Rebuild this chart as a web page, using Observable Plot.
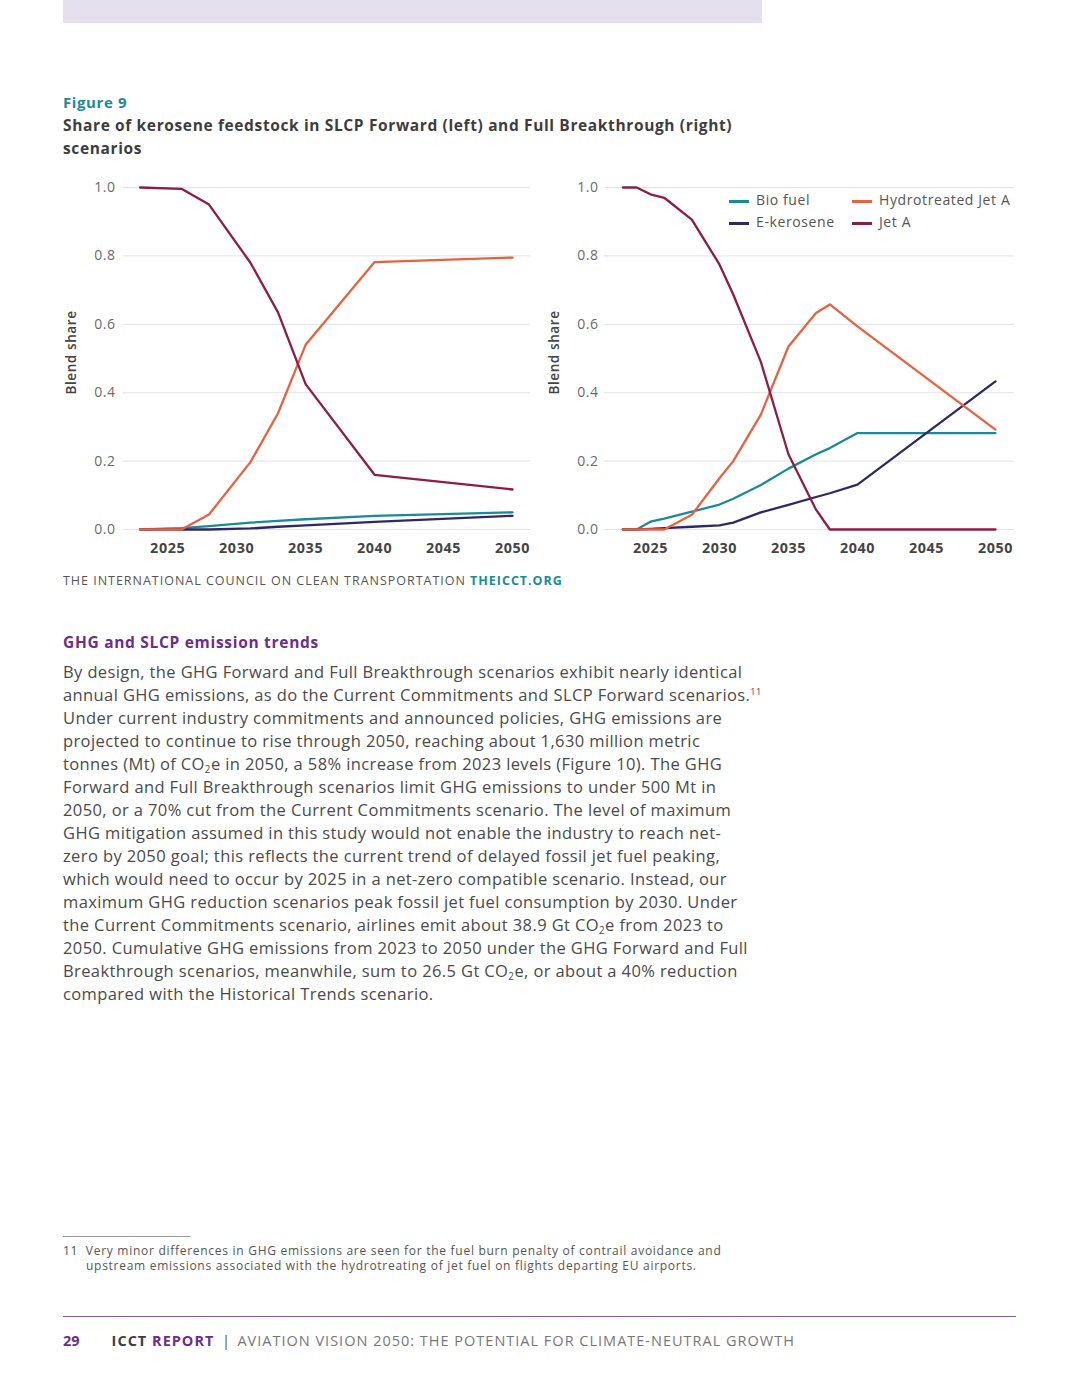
<!DOCTYPE html>
<html>
<head>
<meta charset="utf-8">
<script src="https://cdn.jsdelivr.net/npm/d3@7"></script>
<script src="https://cdn.jsdelivr.net/npm/@observablehq/plot@0.6"></script>
<style>
  html, body { margin: 0; padding: 0; background: #fff; }
  body { width: 1080px; height: 1398px; position: relative; overflow: hidden; font-family: "Open Sans", sans-serif; color: #4a4a4a; }
  .abs { position: absolute; white-space: nowrap; }
  .para div { position: absolute; left: 0; white-space: nowrap; }
  sub { font-size: 0.6em; vertical-align: -0.35em; line-height: 0; }
  sup { font-size: 0.55em; vertical-align: 0.7em; line-height: 0; }
</style>
</head>
<body>
<div class="abs" style="left:63px;top:0;width:699px;height:23px;background:#e4e0ee;"></div>

<div class="abs" style="left:63px;top:92px;font-size:15px;font-weight:700;color:#1b8a99;letter-spacing:0.6px;">Figure 9</div>
<div class="abs" style="left:63px;top:114px;font-size:15.5px;font-weight:700;color:#3d3d3d;line-height:23px;letter-spacing:0.63px;">Share of kerosene feedstock in SLCP Forward (left) and Full Breakthrough (right)<br>scenarios</div>

<div id="left" class="abs" style="left:60px;top:170px;"></div>
<div id="right" class="abs" style="left:543px;top:170px;"></div>
<div id="legend" class="abs" style="left:729px;top:190px;font-size:14px;color:#555;letter-spacing:0.6px;"></div>

<div class="abs" style="left:63px;top:572px;font-size:12.5px;color:#555;letter-spacing:0.98px;">THE INTERNATIONAL COUNCIL ON CLEAN TRANSPORTATION <span style="color:#1b8a99;font-weight:700;">THEICCT.ORG</span></div>

<div class="abs" style="left:63px;top:631px;font-size:15.5px;font-weight:700;color:#6b2d8f;letter-spacing:0.7px;">GHG and SLCP emission trends</div>

<div id="para" class="abs para" style="left:63px;top:660px;font-size:16.5px;color:#4a4a4a;letter-spacing:0.39px;"></div>

<div class="abs" style="left:63px;top:1236px;width:127px;height:1px;background:#999;"></div>
<div class="abs" style="left:63px;top:1243px;font-size:12px;color:#555;line-height:15px;letter-spacing:0.72px;">11&nbsp;&nbsp;Very minor differences in GHG emissions are seen for the fuel burn penalty of contrail avoidance and<br><span style="padding-left:23px;">upstream emissions associated with the hydrotreating of jet fuel on flights departing EU airports.</span></div>

<div class="abs" style="left:63px;top:1316px;width:953px;height:1px;background:#8a5aa3;"></div>
<div class="abs" style="left:63px;top:1331px;font-size:14.5px;color:#777;">
  <span style="color:#6b2d8f;font-weight:700;">29</span><span style="display:inline-block;width:32px;"></span><span style="letter-spacing:1px;"><span style="color:#3d3d3d;font-weight:700;">ICCT</span> <span style="color:#6b2d8f;font-weight:700;">REPORT</span></span>&nbsp; <span style="color:#555;">|</span>&nbsp; <span style="letter-spacing:1px;">AVIATION VISION 2050: THE POTENTIAL FOR CLIMATE-NEUTRAL GROWTH</span>
</div>

<script>
// ---- Data ----
const series = ["Bio fuel", "E-kerosene", "Hydrotreated Jet A", "Jet A"];
const colors = ["#1a8a98", "#2e2868", "#e8623f", "#8e1c47"];

// SLCP Forward (left)
const leftYears = [2023, 2026, 2028, 2031, 2033, 2035, 2040, 2050];
const leftBio   = [0, 0.004, 0.01, 0.02, 0.025, 0.03, 0.04, 0.05];
const leftEker  = [0, 0, 0, 0.003, 0.008, 0.012, 0.022, 0.04];
const leftHydro = [0, 0, 0.044, 0.197, 0.34, 0.54, 0.782, 0.795];
const leftJetA  = [1, 0.996, 0.95, 0.78, 0.635, 0.425, 0.16, 0.117];

// Full Breakthrough (right)
const rightYears = [2023, 2024, 2025, 2026, 2028, 2030, 2031, 2033, 2035, 2037, 2038, 2040, 2050];
const rightBio   = [0, 0, 0.023, 0.032, 0.052, 0.073, 0.09, 0.13, 0.178, 0.22, 0.238, 0.282, 0.282];
const rightEker  = [0, 0, 0.002, 0.004, 0.008, 0.012, 0.02, 0.05, 0.072, 0.095, 0.106, 0.131, 0.433];
const rightHydro = [0, 0, 0, 0, 0.043, 0.15, 0.2, 0.336, 0.535, 0.633, 0.658, 0.594, 0.292];
const rightJetA  = [1, 1, 0.98, 0.97, 0.906, 0.775, 0.687, 0.49, 0.22, 0.058, 0, 0, 0];

const xTicks = [2025, 2030, 2035, 2040, 2045, 2050];
const yTicks = [0, 0.2, 0.4, 0.6, 0.8, 1.0];

function toRows(years, arrays) {
  const rows = [];
  arrays.forEach((arr, i) => arr.forEach((v, j) => rows.push({year: years[j], value: v, fuel: series[i]})));
  return rows;
}

function chart(rows, opts) {
  const svg = Plot.plot({
    width: opts.width, height: 389,
    marginLeft: opts.marginLeft, marginRight: 5, marginTop: 17, marginBottom: 30,
    style: {fontFamily: "Open Sans, sans-serif", background: "transparent", overflow: "visible"},
    x: {domain: opts.xDomain, ticks: xTicks, tickFormat: d => String(d), tickSize: 0, tickPadding: 13, label: null},
    y: {domain: [0, 1], ticks: yTicks, tickFormat: d => d.toFixed(1), tickSize: 0, tickPadding: opts.tickPadding, label: null},
    color: {domain: series, range: colors},
    marks: [
      Plot.gridY(yTicks, {stroke: "#e3e3e3", strokeOpacity: 1, strokeWidth: 1}),
      Plot.axisY({ticks: yTicks, tickSize: 0, tickPadding: opts.tickPadding, tickFormat: d => d.toFixed(1), fill: "#6a6a6a", fontSize: 14, label: null}),
      Plot.axisX({ticks: xTicks, tickSize: 0, tickPadding: 13, tickFormat: d => String(d), fill: "#444", fontSize: 14.3, fontWeight: 700, label: null}),
      Plot.text(["Blend share"], {frameAnchor: "left", dx: -opts.marginLeft + 11, dy: -6, rotate: -90, textAnchor: "middle", fill: "#444", fontSize: 13.5, fontWeight: 600}),
      Plot.line(rows, {x: "year", y: "value", stroke: "fuel", z: "fuel", strokeWidth: 2.3, curve: "linear"})
    ]
  });
  d3.select(svg).selectAll("g[aria-label='x-axis tick label'] text").attr("letter-spacing", "0.6px");
  d3.select(svg).selectAll("g[aria-label='y-axis tick label'] text").attr("letter-spacing", "0.5px");
  d3.select(svg).selectAll("g[aria-label='text'] text").attr("letter-spacing", "0.6px");
  return svg;
}

document.getElementById("left").append(chart(
  toRows(leftYears, [leftBio, leftEker, leftHydro, leftJetA]),
  {width: 475, marginLeft: 63, xDomain: [2021.8, 2051.3], tickPadding: 8}));
document.getElementById("right").append(chart(
  toRows(rightYears, [rightBio, rightEker, rightHydro, rightJetA]),
  {width: 476, marginLeft: 61, xDomain: [2021.67, 2051.38], tickPadding: 6}));

// Legend
const legendOrder = [[0, 2], [1, 3]];
const leg = document.getElementById("legend");
legendOrder.forEach((row, r) => {
  row.forEach((si, c) => {
    const d = document.createElement("div");
    d.style.cssText = `position:absolute;top:${r * 22}px;left:${c * 123}px;white-space:nowrap;`;
    d.innerHTML = `<span style="display:inline-block;width:20px;height:2.5px;background:${colors[si]};vertical-align:middle;margin-right:7px;"></span>${series[si]}`;
    leg.append(d);
  });
});

// Paragraph text
const lines = [
  "By design, the GHG Forward and Full Breakthrough scenarios exhibit nearly identical",
  "annual GHG emissions, as do the Current Commitments and SLCP Forward scenarios.<sup>11</sup>",
  "Under current industry commitments and announced policies, GHG emissions are",
  "projected to continue to rise through 2050, reaching about 1,630 million metric",
  "tonnes (Mt) of CO<sub>2</sub>e in 2050, a 58% increase from 2023 levels (Figure 10). The GHG",
  "Forward and Full Breakthrough scenarios limit GHG emissions to under 500 Mt in",
  "2050, or a 70% cut from the Current Commitments scenario. The level of maximum",
  "GHG mitigation assumed in this study would not enable the industry to reach net-",
  "zero by 2050 goal; this reflects the current trend of delayed fossil jet fuel peaking,",
  "which would need to occur by 2025 in a net-zero compatible scenario. Instead, our",
  "maximum GHG reduction scenarios peak fossil jet fuel consumption by 2030. Under",
  "the Current Commitments scenario, airlines emit about 38.9 Gt CO<sub>2</sub>e from 2023 to",
  "2050. Cumulative GHG emissions from 2023 to 2050 under the GHG Forward and Full",
  "Breakthrough scenarios, meanwhile, sum to 26.5 Gt CO<sub>2</sub>e, or about a 40% reduction",
  "compared with the Historical Trends scenario."
];
const para = document.getElementById("para");
lines.forEach((t, i) => {
  const d = document.createElement("div");
  d.style.top = (i * 23) + "px";
  d.innerHTML = t;
  para.append(d);
});
</script>
</body>
</html>
